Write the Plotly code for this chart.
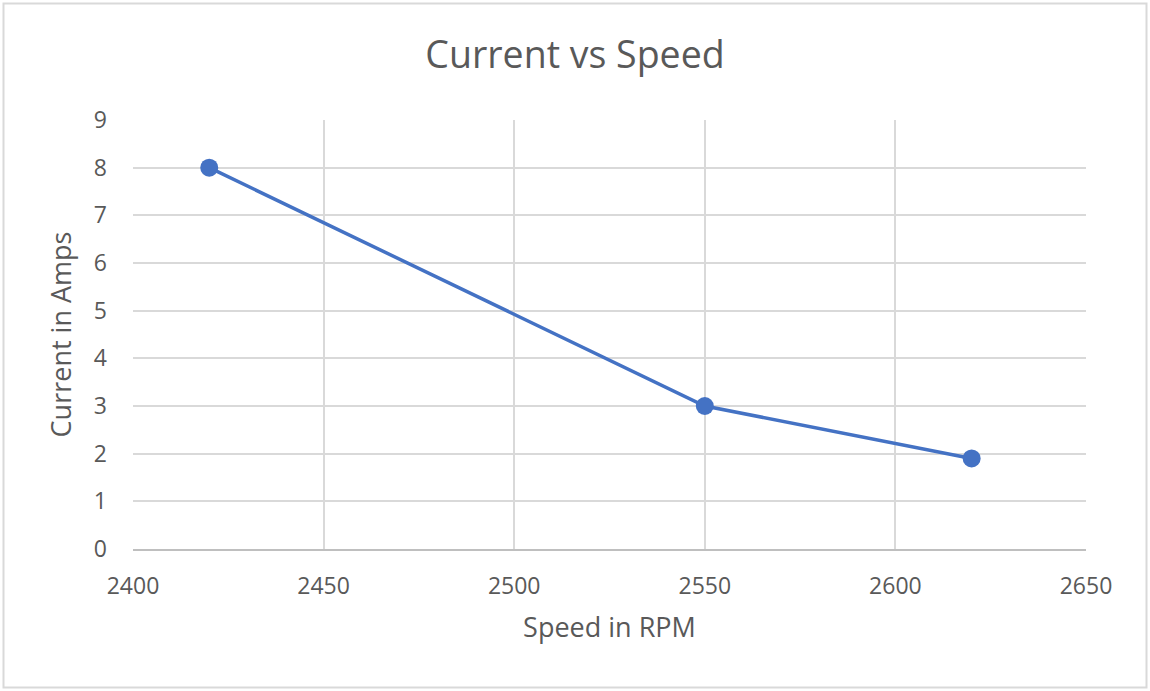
import plotly.graph_objects as go

speed_rpm = [2420, 2550, 2620]
current_amps = [8, 3, 1.9]
x_ticks = [2400, 2450, 2500, 2550, 2600, 2650]
y_ticks = [0, 1, 2, 3, 4, 5, 6, 7, 8, 9]

FONT = "Open Sans"
GREY = "#595959"
GRID = "#d9d9d9"

fig = go.Figure()
fig.add_trace(go.Scatter(
    x=speed_rpm, y=current_amps, mode="lines+markers",
    line=dict(color="#4472C4", width=3.5),
    marker=dict(color="#4472C4", size=18),
    showlegend=False, hoverinfo="x+y",
))

L, R, T, B = 133, 64, 120, 142
W, H = 1150, 691
pw, ph = W - L - R, H - T - B

fig.update_layout(
    width=W, height=H,
    margin=dict(l=L, r=R, t=T, b=B),
    paper_bgcolor="white", plot_bgcolor="white",
    font=dict(family=FONT, color=GREY),
    title=dict(text="Current vs Speed", x=575 / W, xref="container", xanchor="center",
               y=1 - 55 / H, yanchor="middle", yref="container",
               font=dict(size=37.5, color=GREY, family=FONT)),
    xaxis=dict(range=[2400, 2650], tickvals=x_ticks, showgrid=True, gridcolor=GRID,
               gridwidth=1.5, zeroline=False, showline=True, linecolor="#bfbfbf",
               linewidth=1.5, ticks="", tickfont=dict(size=23, color=GREY),
               ticklabelstandoff=16,
               title=dict(text="Speed in RPM", font=dict(size=27, color=GREY), standoff=18)),
    yaxis=dict(range=[0, 9], tickvals=y_ticks, showgrid=True, gridcolor=GRID,
               gridwidth=1.5, zeroline=False, showline=False, ticks="",
               tickfont=dict(size=23, color=GREY), ticklabelstandoff=25,
               title=dict(text="Current in Amps", font=dict(size=27, color=GREY), standoff=14)),
    shapes=[dict(type="rect", xref="paper", yref="paper",
                 x0=(3.5 - L) / pw, x1=(1146.5 - L) / pw,
                 y0=(H - B - 687.5) / ph, y1=(H - B - 3.5) / ph,
                 line=dict(color="#d9d9d9", width=2), fillcolor="rgba(0,0,0,0)", layer="below")],
)

fig.write_html("out.html", config={"displayModeBar": False},
               post_script="document.body.style.margin='0';")
